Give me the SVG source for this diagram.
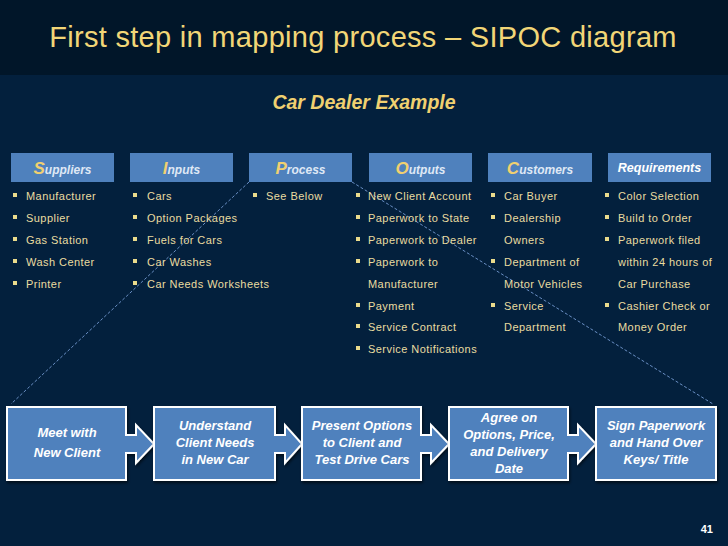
<svg xmlns="http://www.w3.org/2000/svg" width="728" height="546" viewBox="0 0 728 546">
<style>
text{font-family:"Liberation Sans",Arial,sans-serif}
.hd{fill:#4f81bd}
.ht{font-size:12px;font-weight:bold;font-style:italic;fill:#dfe8f5}
.hb{font-size:17px;fill:#f0d070}
.li{font-size:11px;fill:#eadca0;letter-spacing:0.45px}
.bu{fill:#eadb8c}
.box{fill:#4f81bd;stroke:#ffffff;stroke-width:2}
.bt{font-size:13px;font-weight:bold;font-style:italic;fill:#ffffff;text-anchor:middle}
.dash{stroke:#6a8fc4;stroke-width:1;stroke-dasharray:3 2;fill:none}
</style>
<defs>
<filter id="sh" x="-10%" y="-10%" width="120%" height="130%">
<feDropShadow dx="1" dy="2" stdDeviation="1.5" flood-color="#000" flood-opacity="0.6"/>
</filter>
</defs>
<rect x="0" y="0" width="728" height="546" fill="#03203d"/>
<rect x="0" y="0" width="728" height="75" fill="#011629"/>
<text x="363" y="47" font-size="29" fill="#f2d677" text-anchor="middle" letter-spacing="0.3">First step in mapping process – SIPOC diagram</text>
<text x="364" y="109" font-size="19.5" font-weight="bold" font-style="italic" fill="#f0d070" text-anchor="middle">Car Dealer Example</text>

<g id="connectors">
<line class="dash" x1="249" y1="182" x2="11" y2="404"/>
<line class="dash" x1="352" y1="182" x2="713" y2="404"/>
</g>

<g id="suppliers">
<rect class="hd" x="11" y="153" width="103" height="29"/>
<text class="ht" x="62.5" y="174" text-anchor="middle"><tspan class="hb">S</tspan>uppliers</text>
<g class="bu"><rect x="13" y="193" width="4" height="4"/><rect x="13" y="215" width="4" height="4"/><rect x="13" y="237" width="4" height="4"/><rect x="13" y="259" width="4" height="4"/><rect x="13" y="281" width="4" height="4"/></g>
<text class="li" x="26" y="200">Manufacturer</text>
<text class="li" x="26" y="222">Supplier</text>
<text class="li" x="26" y="244">Gas Station</text>
<text class="li" x="26" y="266">Wash Center</text>
<text class="li" x="26" y="288">Printer</text>
</g>

<g id="inputs">
<rect class="hd" x="130" y="153" width="103" height="29"/>
<text class="ht" x="181.5" y="174" text-anchor="middle"><tspan class="hb">I</tspan>nputs</text>
<g class="bu"><rect x="133" y="193" width="4" height="4"/><rect x="133" y="215" width="4" height="4"/><rect x="133" y="237" width="4" height="4"/><rect x="133" y="259" width="4" height="4"/><rect x="133" y="281" width="4" height="4"/></g>
<text class="li" x="147" y="200">Cars</text>
<text class="li" x="147" y="222">Option Packages</text>
<text class="li" x="147" y="244">Fuels for Cars</text>
<text class="li" x="147" y="266">Car Washes</text>
<text class="li" x="147" y="288">Car Needs Worksheets</text>
</g>

<g id="process">
<rect class="hd" x="249" y="153" width="103" height="29"/>
<text class="ht" x="300.5" y="174" text-anchor="middle"><tspan class="hb">P</tspan>rocess</text>
<rect class="bu" x="253" y="193" width="4" height="4"/>
<text class="li" x="266" y="200">See Below</text>
</g>

<g id="outputs">
<rect class="hd" x="369" y="153" width="103" height="29"/>
<text class="ht" x="420.5" y="174" text-anchor="middle"><tspan class="hb">O</tspan>utputs</text>
<g class="bu"><rect x="356" y="193" width="4" height="4"/><rect x="356" y="215" width="4" height="4"/><rect x="356" y="237" width="4" height="4"/><rect x="356" y="259" width="4" height="4"/><rect x="356" y="303" width="4" height="4"/><rect x="356" y="324" width="4" height="4"/><rect x="356" y="346" width="4" height="4"/></g>
<text class="li" x="368" y="200">New Client Account</text>
<text class="li" x="368" y="222">Paperwork to State</text>
<text class="li" x="368" y="244">Paperwork to Dealer</text>
<text class="li" x="368" y="266">Paperwork to</text>
<text class="li" x="368" y="288">Manufacturer</text>
<text class="li" x="368" y="310">Payment</text>
<text class="li" x="368" y="331">Service Contract</text>
<text class="li" x="368" y="353">Service Notifications</text>
</g>

<g id="customers">
<rect class="hd" x="488" y="153" width="104" height="29"/>
<text class="ht" x="540" y="174" text-anchor="middle"><tspan class="hb">C</tspan>ustomers</text>
<g class="bu"><rect x="491" y="193" width="4" height="4"/><rect x="491" y="215" width="4" height="4"/><rect x="491" y="259" width="4" height="4"/><rect x="491" y="303" width="4" height="4"/></g>
<text class="li" x="504" y="200">Car Buyer</text>
<text class="li" x="504" y="222">Dealership</text>
<text class="li" x="504" y="244">Owners</text>
<text class="li" x="504" y="266">Department of</text>
<text class="li" x="504" y="288">Motor Vehicles</text>
<text class="li" x="504" y="310">Service</text>
<text class="li" x="504" y="331">Department</text>
</g>

<g id="requirements">
<rect class="hd" x="608" y="153" width="103" height="29"/>
<text x="659.5" y="172" font-size="12.5" font-weight="bold" font-style="italic" fill="#ffffff" text-anchor="middle">Requirements</text>
<g class="bu"><rect x="605" y="193" width="4" height="4"/><rect x="605" y="215" width="4" height="4"/><rect x="605" y="237" width="4" height="4"/><rect x="605" y="303" width="4" height="4"/></g>
<text class="li" x="618" y="200">Color Selection</text>
<text class="li" x="618" y="222">Build to Order</text>
<text class="li" x="618" y="244">Paperwork filed</text>
<text class="li" x="618" y="266">within 24 hours of</text>
<text class="li" x="618" y="288">Car Purchase</text>
<text class="li" x="618" y="310">Cashier Check or</text>
<text class="li" x="618" y="331">Money Order</text>
</g>

<g id="step1">
<path class="box" filter="url(#sh)" d="M7 407H126V435H136V425L154 444L136 463V453H126V480H7Z"/>
<text class="bt" x="67" y="437">Meet with</text>
<text class="bt" x="67" y="457">New Client</text>
</g>
<g id="step2">
<path class="box" filter="url(#sh)" d="M154 407H275V435H285V425L302 444L285 463V453H275V480H154Z"/>
<text class="bt" x="215" y="430">Understand</text>
<text class="bt" x="215" y="447">Client Needs</text>
<text class="bt" x="215" y="464">in New Car</text>
</g>
<g id="step3">
<path class="box" filter="url(#sh)" d="M302 407H421V435H431V425L449 444L431 463V453H421V480H302Z"/>
<text class="bt" x="362" y="430">Present Options</text>
<text class="bt" x="362" y="447">to Client and</text>
<text class="bt" x="362" y="464">Test Drive Cars</text>
</g>
<g id="step4">
<path class="box" filter="url(#sh)" d="M449 407H568V435H578V425L596 444L578 463V453H568V480H449Z"/>
<text class="bt" x="509" y="422">Agree on</text>
<text class="bt" x="509" y="439">Options, Price,</text>
<text class="bt" x="509" y="456">and Delivery</text>
<text class="bt" x="509" y="473">Date</text>
</g>
<g id="step5">
<path class="box" filter="url(#sh)" d="M596 407H716V480H596Z"/>
<text class="bt" x="656" y="430">Sign Paperwork</text>
<text class="bt" x="656" y="447">and Hand Over</text>
<text class="bt" x="656" y="464">Keys/ Title</text>
</g>

<text x="713" y="533" font-size="11" font-weight="bold" fill="#ffffff" text-anchor="end">41</text>
</svg>
